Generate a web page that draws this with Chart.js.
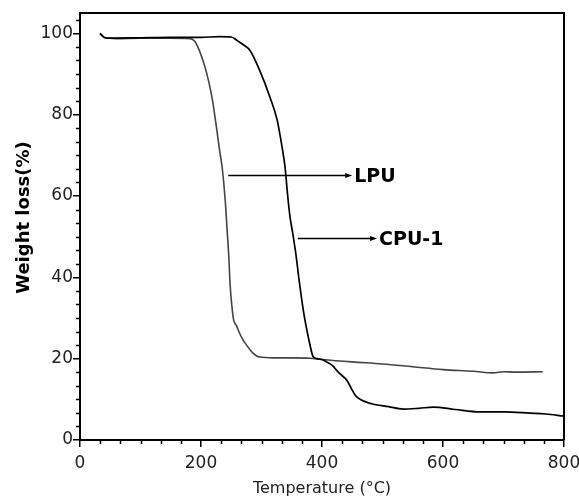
<!DOCTYPE html>
<html>
<head>
<meta charset="utf-8">
<script src="https://cdn.jsdelivr.net/npm/chart.js@4.4.0/dist/chart.umd.min.js"></script>
<style>
html,body{margin:0;padding:0;background:#fff;}
#wrap{width:579px;height:498px;}
</style>
</head>
<body>
<div id="wrap"><canvas id="c" width="579" height="498"></canvas></div>
<script>
// ---- data ----
const lpuTemp   = [33,37,41,60,100,150,182,190,198,206,213,219,225,231,235,240,243,246,248,251,254,257,259,263,270,276,285,297,320,350,380,400,450,500,550,600,650,683,700,720,765];
const lpuWeight = [100,99.5,98.9,98.7,98.8,98.8,98.7,98,95.5,92,88,83.5,77.5,71,67,59,52,45,38.5,33,29.5,28.5,28,26.5,24.5,23.2,21.5,20.4,20.2,20.2,20.1,19.8,19.2,18.7,18,17.3,16.9,16.5,16.8,16.7,16.8];

const cpuTemp   = [33,38,45,100,150,200,230,250,260,270,281,297,314,326,334,339,343,347,352,357,362,369,375,380,385,392,400,410,418,425,432,441,448,455,460,470,485,510,534,560,584,620,661,700,744,770,799];
const cpuWeight = [100,99.2,98.8,98.9,99,99,99.2,99.1,98.2,97.2,95.8,90.9,84.3,78.6,72,67,60.5,55,50.5,45.5,39.5,32,27,23.5,20.6,20,19.8,19,18.2,17,16,14.7,12.8,11,10.3,9.5,8.8,8.2,7.6,7.8,8.1,7.5,6.9,6.9,6.6,6.4,5.9];

const xTickValues = [0,200,400,600,800];
const yTickValues = [0,20,40,60,80,100];

const xTitle = 'Temperature (°C)';
const yTitle = 'Weight loss(%)';

const annoLabels = ['LPU','CPU-1'];
const annoFromX  = [245,360];
const annoToX    = [450,491];
const annoY      = [65.1,49.6];

const toPts = (xs, ys) => xs.map((x,i)=>({x, y: ys[i]}));

const decor = {
  id:'decor',
  afterDraw(chart){
    const {ctx, chartArea:a, scales:{x, y}} = chart;
    ctx.save();
    ctx.strokeStyle = '#000';
    ctx.lineWidth = 1.5;
    // minor ticks: 6 divisions between majors
    for (let i=0;i<xTickValues.length-1;i++){
      const step = (xTickValues[i+1]-xTickValues[i])/6;
      for (let k=1;k<6;k++){
        const px = Math.round(x.getPixelForValue(xTickValues[i]+k*step))+0.5;
        ctx.beginPath(); ctx.moveTo(px, a.bottom); ctx.lineTo(px, a.bottom+4); ctx.stroke();
      }
    }
    for (let i=0;i<yTickValues.length-1;i++){
      const step = (yTickValues[i+1]-yTickValues[i])/6;
      for (let k=1;k<6;k++){
        const py = Math.round(y.getPixelForValue(yTickValues[i]+k*step))+0.5;
        ctx.beginPath(); ctx.moveTo(a.left-4, py); ctx.lineTo(a.left, py); ctx.stroke();
      }
    }
    const lastY = yTickValues[yTickValues.length-1];
    const stepY = (yTickValues[1]-yTickValues[0])/6;
    for (let v=lastY+stepY; v<=y.max; v+=stepY){
      const py = Math.round(y.getPixelForValue(v))+0.5;
      ctx.beginPath(); ctx.moveTo(a.left-4, py); ctx.lineTo(a.left, py); ctx.stroke();
    }
    // frame top & right
    ctx.lineWidth = 2;
    ctx.beginPath();
    ctx.moveTo(a.left, a.top); ctx.lineTo(a.right, a.top); ctx.lineTo(a.right, a.bottom);
    ctx.stroke();
    // y title (bold, rotated)
    ctx.save();
    ctx.translate(24, (a.top + a.bottom)/2 - 9);
    ctx.rotate(-Math.PI/2);
    ctx.font = 'bold 18px "DejaVu Sans", sans-serif';
    ctx.fillStyle = '#000';
    ctx.textAlign = 'center';
    ctx.textBaseline = 'middle';
    ctx.fillText(yTitle, 0, 0);
    ctx.restore();
    // annotations
    ctx.lineWidth = 1.5;
    ctx.fillStyle = '#000';
    for (let i=0;i<annoLabels.length;i++){
      const x0 = x.getPixelForValue(annoFromX[i]);
      const x1 = x.getPixelForValue(annoToX[i]);
      const py = Math.round(y.getPixelForValue(annoY[i]))+0.5;
      ctx.beginPath(); ctx.moveTo(x0, py); ctx.lineTo(x1-5, py); ctx.stroke();
      ctx.beginPath(); ctx.moveTo(x1, py); ctx.lineTo(x1-7, py-2.5); ctx.lineTo(x1-7, py+2.5); ctx.closePath(); ctx.fill();
      ctx.font = 'bold 19px "DejaVu Sans", sans-serif';
      ctx.textBaseline = 'middle';
      ctx.textAlign = 'left';
      ctx.fillText(annoLabels[i], x1+2, py+2);
    }
    ctx.restore();
  }
};

new Chart(document.getElementById('c'), {
  type:'line',
  data:{
    datasets:[
      {label:'CPU-1', data: toPts(cpuTemp, cpuWeight), borderColor:'#000', borderWidth:1.7, pointRadius:0, cubicInterpolationMode:'monotone', fill:false},
      {label:'LPU', data: toPts(lpuTemp, lpuWeight), borderColor:'#444', borderWidth:1.6, pointRadius:0, cubicInterpolationMode:'monotone', fill:false}
    ]
  },
  options:{
    responsive:false,
    animation:false,
    devicePixelRatio:1,
    layout:{padding:{left:0,right:15,top:13,bottom:0}},
    plugins:{legend:{display:false}, tooltip:{enabled:false}},
    scales:{
      x:{
        type:'linear', min:0, max:800,
        afterFit(s){ s.height = 58; s.paddingRight = 0; s.paddingLeft = 0; },
        afterBuildTicks(s){ s.ticks = xTickValues.map(v=>({value:v})); },
        grid:{drawOnChartArea:false, drawTicks:true, tickLength:7, color:'#000', lineWidth:1.5},
        border:{display:true, color:'#000', width:2},
        ticks:{padding:6, color:'#222', font:{family:'"DejaVu Sans", sans-serif', size:17}, maxRotation:0},
        title:{display:true, text:xTitle, color:'#222', font:{family:'"DejaVu Sans", sans-serif', size:16}, padding:{top:0,bottom:0}}
      },
      y:{
        type:'linear', min:0, max:105,
        afterFit(s){ s.width = 80; s.paddingTop = 0; s.paddingBottom = 0; },
        afterBuildTicks(s){ s.ticks = yTickValues.map(v=>({value:v})); },
        grid:{drawOnChartArea:false, drawTicks:true, tickLength:7, color:'#000', lineWidth:1.5},
        border:{display:true, color:'#000', width:2},
        ticks:{padding:0, color:'#222', font:{family:'"DejaVu Sans", sans-serif', size:17}}
      }
    }
  },
  plugins:[decor]
});
</script>
</body>
</html>
